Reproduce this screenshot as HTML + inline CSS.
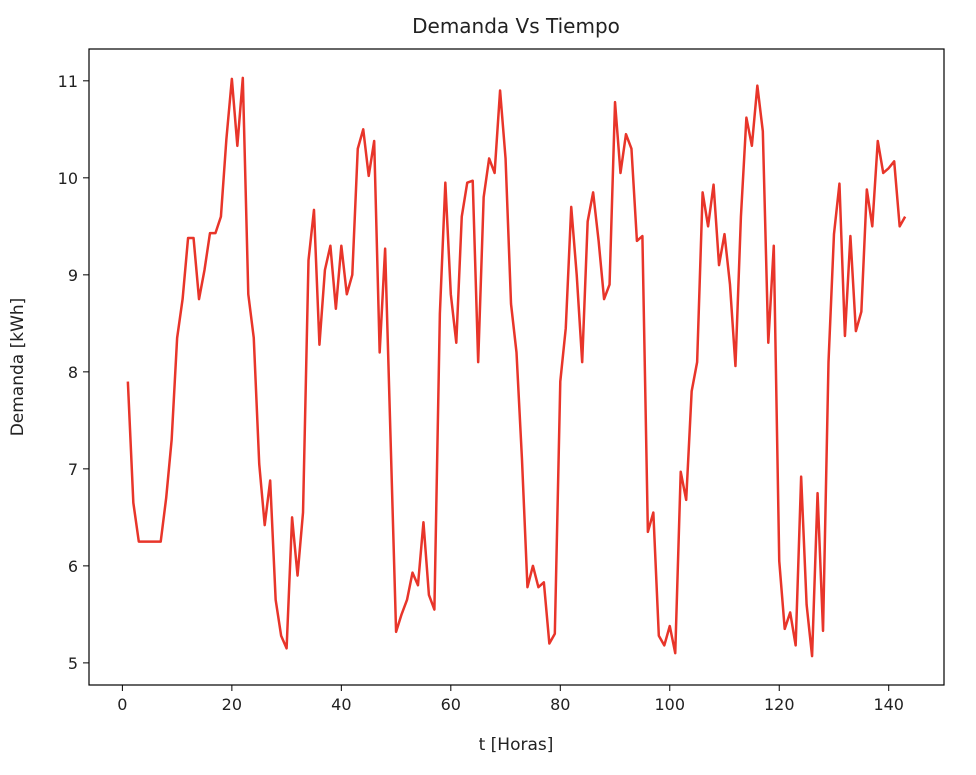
<!DOCTYPE html>
<html><head><meta charset="utf-8"><style>
body{margin:0;background:#fff;}
svg text{font-family:"DejaVu Sans","Liberation Sans",sans-serif;fill:#222;}
</style></head><body>
<svg id="chart" width="976" height="770" xmlns="http://www.w3.org/2000/svg">
<rect width="976" height="770" fill="#fff"/>
<text x="516" y="33" font-size="20" text-anchor="middle">Demanda Vs Tiempo</text>
<text x="516" y="750" font-size="17" text-anchor="middle">t [Horas]</text>
<text transform="translate(23,367) rotate(-90)" font-size="17" text-anchor="middle">Demanda [kWh]</text>
<g id="xticks"></g><g id="yticks"></g>
<path id="series" fill="none" stroke="#e8352a" stroke-width="2.5" stroke-linejoin="round"/>
<rect x="89" y="49" width="855" height="636" fill="none" stroke="#000" stroke-width="1.2"/>
</svg>
<script>
const demand=[7.9,6.65,6.25,6.25,6.25,6.25,6.25,6.7,7.3,8.35,8.75,9.38,9.38,8.75,9.05,9.43,9.43,9.6,10.4,11.02,10.33,11.03,8.8,8.35,7.05,6.42,6.88,5.65,5.28,5.15,6.5,5.9,6.55,9.15,9.67,8.28,9.05,9.3,8.65,9.3,8.8,9.0,10.3,10.5,10.02,10.38,8.2,9.27,7.3,5.32,5.5,5.65,5.93,5.8,6.45,5.7,5.55,8.6,9.95,8.8,8.3,9.6,9.95,9.97,8.1,9.8,10.2,10.05,10.9,10.2,8.7,8.2,7.1,5.78,6.0,5.78,5.83,5.2,5.3,7.9,8.45,9.7,9.0,8.1,9.55,9.85,9.35,8.75,8.9,10.78,10.05,10.45,10.3,9.35,9.4,6.35,6.55,5.28,5.18,5.38,5.1,6.97,6.68,7.8,8.1,9.85,9.5,9.93,9.1,9.42,8.9,8.06,9.6,10.62,10.33,10.95,10.48,8.3,9.3,6.05,5.35,5.52,5.18,6.92,5.6,5.07,6.75,5.33,8.1,9.42,9.94,8.37,9.4,8.42,8.62,9.88,9.5,10.38,10.05,10.1,10.17,9.5,9.6];
const xTickLabels=[0,20,40,60,80,100,120,140];
const yTickLabels=[5,6,7,8,9,10,11];
const NS="http://www.w3.org/2000/svg";
const X0=89,X1=944,Y0=49,Y1=685;
const n=demand.length;
const xmin=1-0.05*(n-1),xmax=n+0.05*(n-1);
const dmin=Math.min(...demand),dmax=Math.max(...demand),pad=0.05*(dmax-dmin);
const ymin=dmin-pad,ymax=dmax+pad;
const sx=v=>X0+(v-xmin)/(xmax-xmin)*(X1-X0);
const sy=v=>Y1-(v-ymin)/(ymax-ymin)*(Y1-Y0);
document.getElementById('series').setAttribute('d',demand.map((v,i)=>(i?'L':'M')+sx(i+1).toFixed(2)+','+sy(v).toFixed(2)).join(''));
const xg=document.getElementById('xticks');
xTickLabels.forEach(t=>{const x=sx(t);
const l=document.createElementNS(NS,'line');l.setAttribute('x1',x);l.setAttribute('x2',x);l.setAttribute('y1',Y1);l.setAttribute('y2',Y1+6);l.setAttribute('stroke','#000');


xg.appendChild(l);
const tx=document.createElementNS(NS,'text');tx.setAttribute('x',x);tx.setAttribute('y',Y1+25);tx.setAttribute('font-size','16');tx.setAttribute('text-anchor','middle');tx.textContent=t;


xg.appendChild(tx);});
const yg=document.getElementById('yticks');
yTickLabels.forEach(t=>{const y=sy(t);
const l=document.createElementNS(NS,'line');l.setAttribute('x1',X0-6);l.setAttribute('x2',X0);l.setAttribute('y1',y);l.setAttribute('y2',y);l.setAttribute('stroke','#000');


yg.appendChild(l);
const tx=document.createElementNS(NS,'text');tx.setAttribute('x',X0-11);tx.setAttribute('y',y+6);tx.setAttribute('font-size','16');tx.setAttribute('text-anchor','end');tx.textContent=t;


yg.appendChild(tx);});
</script>
</body></html>
